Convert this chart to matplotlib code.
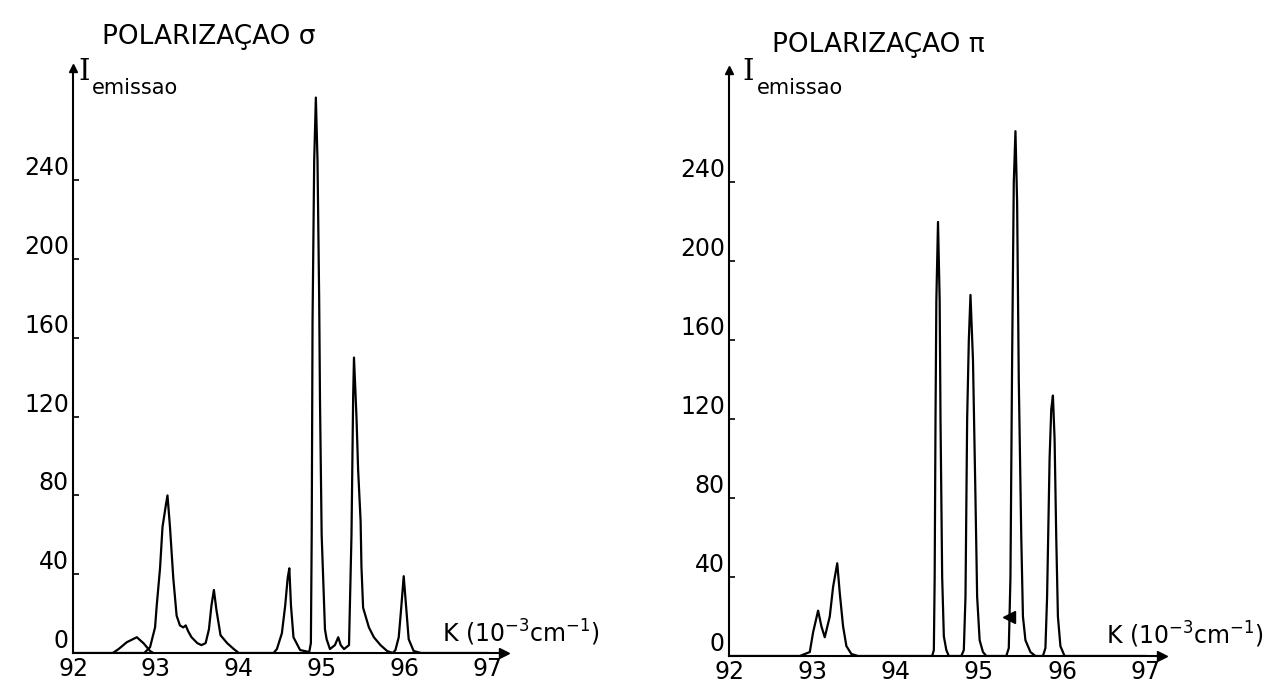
import matplotlib.pyplot as plt

# emission spectra (K in 10^3 cm^-1)
sigma_k = [92.0, 92.86, 92.93, 92.99, 93.01, 93.05, 93.08, 93.12, 93.14, 93.17, 93.21, 93.25,
           93.29, 93.33, 93.36, 93.39, 93.43, 93.5, 93.55, 93.6, 93.64, 93.67, 93.70, 93.73,
           93.78, 93.86, 93.94, 94.0, 94.42, 94.46, 94.52, 94.56, 94.59, 94.61, 94.63, 94.66,
           94.74, 94.85, 94.87, 94.88, 94.89, 94.91, 94.93, 94.95, 94.97, 94.98, 95.0, 95.04,
           95.06, 95.10, 95.16, 95.20, 95.23, 95.27, 95.33, 95.36, 95.38, 95.39, 95.42, 95.44,
           95.47, 95.48, 95.50, 95.57, 95.63, 95.71, 95.79, 95.86, 95.89, 95.93, 95.96, 95.99,
           96.02, 96.05, 96.11, 96.2, 97.0]
sigma_i = [0, 0, 3, 13, 24, 43, 64, 75, 80, 64, 38, 19,
           14, 13, 14, 11, 8, 5, 4, 5, 12, 24, 32, 22,
           9, 5, 2, 0, 0, 2, 10, 24, 38, 43, 24, 8,
           1.5, 0.5, 5, 60, 168, 250, 282, 250, 180, 128, 60, 12,
           7, 2, 4, 8, 4, 2, 4, 60, 130, 150, 120, 93,
           67, 44, 23, 13, 8, 4, 1, 0, 1.5, 8, 23, 39,
           23, 7, 1, 0, 0]

# small band under the foot of the 93 line
band_k = [92.48, 92.55, 92.65, 92.77, 92.85, 92.93, 92.97]
band_i = [0, 2, 5.5, 8, 5, 1, 0]

pi_k = [92.0, 92.85, 92.97, 93.01, 93.07, 93.11, 93.15, 93.21, 93.25, 93.30, 93.33, 93.37,
        93.41, 93.47, 93.55, 94.44, 94.46, 94.47, 94.48, 94.49, 94.51, 94.53, 94.54, 94.56,
        94.58, 94.61, 94.64, 94.79, 94.82, 94.84, 94.86, 94.88, 94.90, 94.93, 94.96, 94.98,
        95.01, 95.05, 95.09, 95.33, 95.36, 95.38, 95.40, 95.42, 95.44, 95.46, 95.48, 95.51,
        95.53, 95.56, 95.62, 95.68, 95.77, 95.80, 95.82, 95.85, 95.87, 95.89, 95.91, 95.93,
        95.95, 95.98, 96.03, 97.0]
pi_i = [0, 0, 2, 12, 23, 15, 9.5, 20, 35, 47, 32, 15,
        5, 1, 0, 0, 3, 40, 120, 180, 220, 180, 120, 40,
        10, 3, 0, 0, 3, 30, 120, 160, 183, 150, 80, 30,
        8, 2, 0, 0, 4, 40, 150, 240, 266, 230, 140, 60,
        20, 8, 2, 0, 0, 4, 30, 100, 125, 132, 110, 60,
        20, 5, 0, 0]

# little arrow drawn by hand on the pi spectrum
mark_k = [95.36]
mark_i = [20]

x_ticks = [92, 93, 94, 95, 96, 97]
x_labels = ['92', '93', '94', '95', '96', '97']
y_ticks = [0, 40, 80, 120, 160, 200, 240]
y_labels = ['0', '40', '80', '120', '160', '200', '240']

plt.rcParams['font.family'] = ['DejaVu Sans']
plt.rcParams['mathtext.default'] = 'regular'

W, H = 1285, 688
fig = plt.figure(figsize=(W / 100, H / 100), dpi=100)


def px_box(x0, x1, y_base, y_top):
    # pixel rectangle -> figure fraction
    return [x0 / W, 1 - y_base / H, (x1 - x0) / W, (y_base - y_top) / H]


def draw_panel(ax, k, inten):
    ax.plot(k, inten, color='black', lw=1.6)
    ax.set_xlim(92, 97.2)
    ax.set_ylim(0, 297)
    ax.spines['top'].set_visible(False)
    ax.spines['right'].set_visible(False)
    ax.spines['left'].set_linewidth(1.5)
    ax.spines['bottom'].set_linewidth(1.5)
    ax.plot(0, 1, '^k', ms=6, transform=ax.transAxes, clip_on=False)
    ax.plot(1, 0, '>k', ms=7, transform=ax.transAxes, clip_on=False)
    ax.set_xticks(x_ticks)
    ax.set_xticklabels(x_labels, fontsize=17)
    ax.set_yticks(y_ticks)
    ax.set_yticklabels(y_labels, fontsize=17)
    ax.tick_params(axis='x', length=0, pad=3)
    ax.tick_params(axis='y', direction='in', length=4, width=1.2, pad=3)
    for lab in ax.get_yticklabels():
        lab.set_va('bottom')


ax1 = fig.add_axes(px_box(73, 504, 653, 68))
draw_panel(ax1, sigma_k, sigma_i)
ax1.plot(band_k, band_i, color='black', lw=1.6)

ax2 = fig.add_axes(px_box(729, 1162, 656, 70))
draw_panel(ax2, pi_k, pi_i)
ax2.plot(mark_k, mark_i, marker='<', color='black', ms=8, ls='none')

# titles and axis names
fig.text(102 / W, 1 - 37 / H, 'POLARIZAÇAO σ', fontsize=19, va='center')
fig.text(772 / W, 1 - 45 / H, 'POLARIZAÇAO π', fontsize=19, va='center')

for x_i, x_sub in [(78, 92), (742, 757)]:
    fig.text(x_i / W, 1 - 72 / H, 'I', fontsize=21, family='DejaVu Serif', va='center')
    fig.text(x_sub / W, 1 - 88 / H, 'emissao', fontsize=15, va='center')

fig.text(442 / W, 1 - 633 / H, 'K (10$^{-3}$cm$^{-1}$)', fontsize=17, va='center')
fig.text(1106 / W, 1 - 635 / H, 'K (10$^{-3}$cm$^{-1}$)', fontsize=17, va='center')

fig.savefig('out.png', dpi=100, facecolor='white')
